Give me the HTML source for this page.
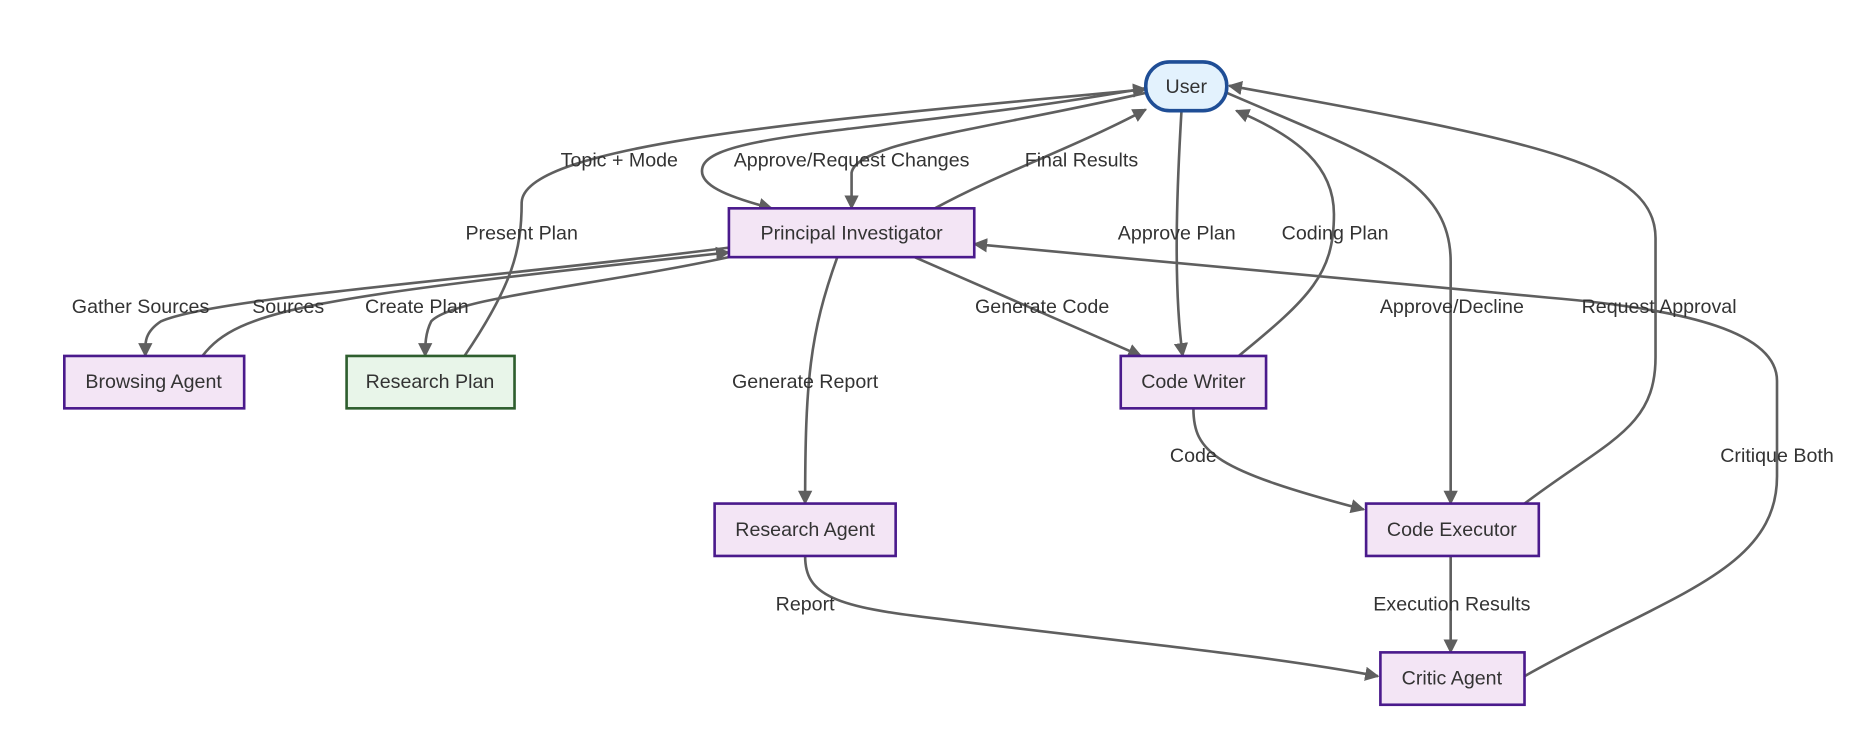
<!DOCTYPE html>
<html><head><meta charset="utf-8"><style>
html,body{margin:0;padding:0;background:#fff;}
svg{display:block;}
text{font-family:"Liberation Sans",sans-serif;font-size:16.5px;fill:#333;text-anchor:middle;dominant-baseline:central;}
.e{fill:none;stroke:#5f5f5f;stroke-width:2.2;}
.n{fill:#f3e5f5;stroke:#4a1a8c;stroke-width:2.2;}
</style></head><body>
<svg width="1858" height="750" viewBox="0 0 1560 630" preserveAspectRatio="none" xmlns="http://www.w3.org/2000/svg">
<defs>
<marker id="a" viewBox="0 0 10 10" refX="9" refY="5" markerWidth="12" markerHeight="12" orient="auto-start-reverse" markerUnits="userSpaceOnUse">
<path d="M0,0 L10,5 L0,10 z" fill="#5f5f5f"/></marker>
</defs>
<g class="e" marker-end="url(#a)">
<path d="M962,74 C760,110 600,110 590,140 C585,155 610,165 648,175"/>
<path d="M962,78 C820,110 720,120 715,145 L715,175"/>
<path d="M785,175 C840,145 900,125 962,92"/>
<path d="M390,299 C430,240 438,210 438,170 C440,120 700,100 962,75"/>
<path d="M612,208 C400,235 180,250 135,270 C120,280 122,290 122,299"/>
<path d="M170,299 C200,260 260,250 612,212"/>
<path d="M612,216 C500,240 380,250 362,270 C357,280 357,290 357,299"/>
<path d="M768,216 L958,299"/>
<path d="M703,216 C680,280 676,320 676,423"/>
<path d="M992,93 C988,160 985,240 993,299"/>
<path d="M1040,299 C1100,250 1120,230 1120,180 C1120,140 1090,115 1038,93"/>
<path d="M1030,78 C1150,130 1218,150 1218,220 L1218,423"/>
<path d="M1280,423 C1350,370 1390,360 1390,300 L1390,200 C1390,140 1300,120 1032,72"/>
<path d="M1280,568 C1400,500 1492,480 1492,400 L1492,320 C1492,280 1420,260 1300,250 L818,205"/>
<path d="M1002,343 C1002,380 1020,395 1145,428"/>
<path d="M676,467 C676,500 700,510 790,520 C950,540 1060,550 1157,568"/>
<path d="M1218,467 L1218,548"/>
</g>
<rect x="962" y="52" width="68" height="41" rx="20" fill="#e3f2fd" stroke="#1f4e96" stroke-width="3"/>
<text x="996" y="73">User</text>
<rect class="n" x="612" y="175" width="206" height="41"/><text x="715" y="196">Principal Investigator</text>
<rect class="n" x="54" y="299" width="151" height="44"/><text x="129" y="321">Browsing Agent</text>
<rect x="291" y="299" width="141" height="44" fill="#e8f5e9" stroke="#2e5e2e" stroke-width="2.2"/><text x="361" y="321">Research Plan</text>
<rect class="n" x="941" y="299" width="122" height="44"/><text x="1002" y="321">Code Writer</text>
<rect class="n" x="600" y="423" width="152" height="44"/><text x="676" y="445">Research Agent</text>
<rect class="n" x="1147" y="423" width="145" height="44"/><text x="1219" y="445">Code Executor</text>
<rect class="n" x="1159" y="548" width="121" height="44"/><text x="1219" y="570">Critic Agent</text>
<text x="520" y="135">Topic + Mode</text>
<text x="715" y="135">Approve/Request Changes</text>
<text x="908" y="135">Final Results</text>
<text x="438" y="196">Present Plan</text>
<text x="988" y="196">Approve Plan</text>
<text x="1121" y="196">Coding Plan</text>
<text x="118" y="258">Gather Sources</text>
<text x="242" y="258">Sources</text>
<text x="350" y="258">Create Plan</text>
<text x="875" y="258">Generate Code</text>
<text x="1219" y="258">Approve/Decline</text>
<text x="1393" y="258">Request Approval</text>
<text x="676" y="321">Generate Report</text>
<text x="1002" y="383">Code</text>
<text x="1492" y="383">Critique Both</text>
<text x="676" y="508">Report</text>
<text x="1219" y="508">Execution Results</text>
</svg>
</body></html>
